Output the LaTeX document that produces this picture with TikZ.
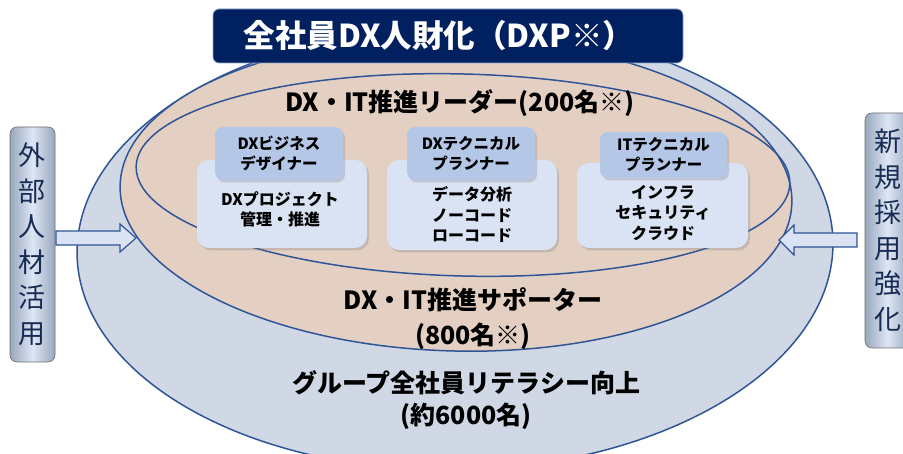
\documentclass[tikz,border=0pt]{standalone}
\usepackage{fontspec}
\setmainfont{Noto Sans CJK JP}
\usetikzlibrary{shadows}
\definecolor{navy}{HTML}{002060}
\definecolor{eline}{HTML}{2F5597}
\definecolor{outerfill}{HTML}{D0D7E5}
\definecolor{tanfill}{HTML}{E4D0C2}
\definecolor{boxfill}{HTML}{DAE3F3}
\definecolor{hdrfill}{HTML}{B4C7E7}
\definecolor{sidetext}{HTML}{172C55}
\definecolor{sideedge}{HTML}{98A7BE}
\definecolor{sidemid}{HTML}{DEE6F4}
\definecolor{titleedge}{HTML}{8EA3C8}
\begin{document}
\begin{tikzpicture}[x=1pt,y=-1pt,
  ering/.style={draw=eline,line width=1.5pt},
  bigbox/.style={fill=boxfill,rounded corners=12pt,inner sep=0pt,
     drop shadow={shadow xshift=2pt,shadow yshift=-2.5pt,opacity=.3}},
  hdrbox/.style={fill=hdrfill,rounded corners=8pt,inner sep=0pt,align=center,
     font=\bfseries\fontsize{15.5}{20}\selectfont,
     drop shadow={shadow xshift=2pt,shadow yshift=-2.5pt,opacity=.3}},
  bodytxt/.style={align=center,font=\bfseries\fontsize{16}{20.5}\selectfont,inner sep=0pt},
  lbl/.style={align=center,inner sep=0pt},
  sidebox/.style={draw=gray!85!black,line width=.6pt,rounded corners=7pt,
     left color=sideedge,right color=sideedge,middle color=sidemid,
     align=center,text=sidetext,font=\fontsize{27}{35.5}\selectfont,
     minimum width=45pt,minimum height=235pt,inner sep=0pt},
  blockarrow/.style={draw=eline,line width=1.2pt,fill=boxfill,line join=miter}
]
\useasboundingbox (0,0) rectangle (903,454);
% ellipses
\path[ering,fill=outerfill,rotate around={1:(455,248)}] (455,248) ellipse [x radius=378pt,y radius=222pt];
\path[ering,fill=tanfill,rotate around={-1.5:(456,194)}] (456,194) ellipse [x radius=336pt,y radius=157pt];
\draw[ering,rotate around={-1.5:(463,175)}] (463,175) ellipse [x radius=327pt,y radius=101pt];
% labels
\node[lbl,font=\bfseries\fontsize{25}{35}\selectfont] (leader) at (460,103) {DX・IT推進リーダー(200名※)};
\node[lbl,font=\bfseries\fontsize{25}{35}\selectfont] (supporter) at (473,318.5) {DX・IT推進サポーター\\(800名※)};
\node[lbl,font=\bfseries\fontsize{25}{32}\selectfont] (group) at (466,400) {グループ全社員リテラシー向上\\(約6000名)};
% boxes
\node[bigbox,minimum width=170pt,minimum height=88pt] (b1) at (282,204) {};
\node[bigbox,minimum width=170pt,minimum height=90pt] (b2) at (472,205) {};
\node[bigbox,minimum width=171pt,minimum height=85pt] (b3) at (662.5,205.5) {};
\node[hdrbox,minimum width=128pt,minimum height=53pt] (h1) at (279,153.5) {DXビジネス\\デザイナー};
\node[hdrbox,minimum width=128pt,minimum height=53pt] (h2) at (471,153.5) {DXテクニカル\\プランナー};
\node[hdrbox,minimum width=127pt,minimum height=46pt] (h3) at (663.5,155) {ITテクニカル\\プランナー};
\node[bodytxt] (t1) at (280,209.5) {DXプロジェクト\\管理・推進};
\node[bodytxt] (t2) at (472,215) {データ分析\\ノーコード\\ローコード};
\node[bodytxt] (t3) at (663,213) {インフラ\\セキュリティ\\クラウド};
% title
\node[fill=navy,draw=titleedge,line width=.8pt,rounded corners=6pt,minimum width=470pt,minimum height=54pt] (title) at (448,36) {};
\node[text=white,font=\bfseries\fontsize{31.5}{34}\selectfont,inner sep=0pt] (titletxt) at (439,36) {全社員DX人財化（DXP※）};
% side boxes
\node[sidebox] (lside) at (32.5,244.5) {外\\部\\人\\材\\活\\用};
\node[sidebox] (rside) at (887.5,230.5) {新\\規\\採\\用\\強\\化};
% arrows
\draw[blockarrow] (56,231) -- (120,231) -- (120,224) -- (136,238) -- (120,252) -- (120,245) -- (56,245) -- cycle;
\draw[blockarrow] (857,233) -- (794,233) -- (794,225) -- (779,240) -- (794,255) -- (794,247) -- (857,247) -- cycle;
\end{tikzpicture}
\end{document}
